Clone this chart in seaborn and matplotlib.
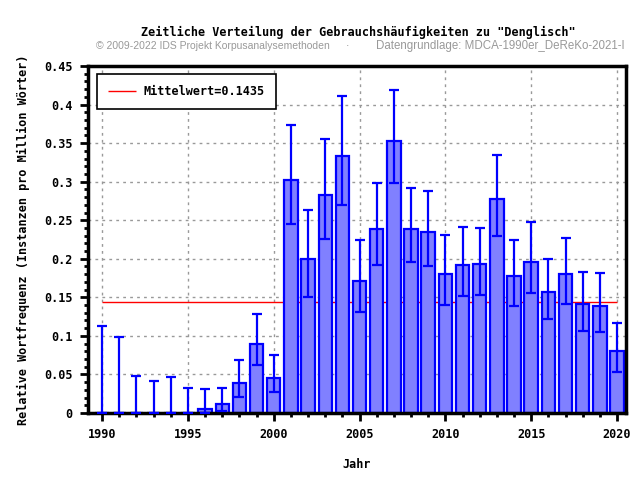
import numpy as np
import pandas as pd
import matplotlib
matplotlib.use("Agg")
import matplotlib.pyplot as plt
from matplotlib.ticker import MultipleLocator, FuncFormatter
import seaborn as sns

# Data
years = list(range(1990, 2021))
freq = [0, 0, 0, 0, 0, 0, 0.005, 0.012, 0.039, 0.0895, 0.045,
        0.302, 0.200, 0.283, 0.333, 0.171, 0.239, 0.353, 0.239, 0.235, 0.180,
        0.192, 0.193, 0.278, 0.178, 0.196, 0.157, 0.180, 0.141, 0.139, 0.080]
upper = [0.113, 0.099, 0.048, 0.0415, 0.0467, 0.032, 0.031, 0.032, 0.069, 0.128, 0.075,
         0.3735, 0.263, 0.355, 0.411, 0.224, 0.298, 0.419, 0.292, 0.288, 0.231,
         0.241, 0.240, 0.335, 0.224, 0.248, 0.200, 0.227, 0.183, 0.182, 0.117]
lower = [0, 0, 0, 0, 0, 0, 0, 0.003, 0.021, 0.062, 0.027,
         0.245, 0.150, 0.226, 0.270, 0.131, 0.192, 0.298, 0.196, 0.191, 0.140,
         0.152, 0.153, 0.230, 0.139, 0.156, 0.122, 0.141, 0.106, 0.105, 0.053]
mean_value = 0.1435

df = pd.DataFrame({"Jahr": years, "freq": freq, "upper": upper, "lower": lower})

mono = "DejaVu Sans Mono"
sub_font = ["Liberation Sans Narrow", "Liberation Sans", "DejaVu Sans"]
fs = 8.5

fig = plt.figure(figsize=(6.4, 4.8), dpi=100)
ax = fig.add_axes([0.1375, 0.1396, 0.8405, 0.7229])

ax.hlines(mean_value, 1990, 2020, color="red", lw=1, zorder=1, label="Mittelwert=0.1435")

sns.barplot(data=df, x="Jahr", y="freq", native_scale=True, width=0.78,
            color="#8080ff", saturation=1, edgecolor="blue", linewidth=1.6,
            errorbar=None, ax=ax, zorder=2)

ax.errorbar(df["Jahr"], df["freq"],
            yerr=[df["freq"] - df["lower"], df["upper"] - df["freq"]],
            fmt="none", ecolor="blue", elinewidth=1.6, capsize=3.5, capthick=1.6, zorder=3)

ax.set_xlim(1989.18, 2020.52)
ax.set_ylim(0, 0.45)
ax.xaxis.set_major_locator(MultipleLocator(5))
ax.xaxis.set_minor_locator(MultipleLocator(1))
ax.yaxis.set_major_locator(MultipleLocator(0.05))
ax.yaxis.set_minor_locator(MultipleLocator(0.01))
ax.yaxis.set_major_formatter(FuncFormatter(lambda v, p: "0" if abs(v) < 1e-9 else f"{v:.2f}".rstrip("0")))
ax.xaxis.set_major_formatter(FuncFormatter(lambda v, p: f"{int(round(v))}"))
ax.tick_params(which="major", direction="out", length=6, width=2, pad=5)
ax.tick_params(which="minor", direction="out", length=3, width=2)
for lab in ax.get_xticklabels() + ax.get_yticklabels():
    lab.set_fontfamily(mono)
    lab.set_fontweight("bold")
    lab.set_fontsize(fs)

ax.grid(True, which="major", linestyle=(0, (2, 3)), color="#999999", lw=1)
ax.set_axisbelow(True)
for s in ax.spines.values():
    s.set_linewidth(2.5)

ax.set_xlabel("Jahr", fontfamily=mono, fontweight="bold", fontsize=fs, labelpad=12)
ax.set_ylabel("Relative Wortfrequenz (Instanzen pro Million Wörter)",
              fontfamily=mono, fontweight="bold", fontsize=fs, labelpad=10)

leg = ax.legend(loc="upper left", prop={"family": mono, "weight": "bold", "size": fs},
                fancybox=False, framealpha=1, edgecolor="black",
                borderpad=0.95, handlelength=2.4, handletextpad=0.6,
                bbox_to_anchor=(0.005, 0.995))
leg.get_frame().set_linewidth(1.2)

fig.text(0.56, 0.925, 'Zeitliche Verteilung der Gebrauchshäufigkeiten zu "Denglisch"',
         ha="center", fontfamily=mono, fontweight="bold", fontsize=fs)
fig.text(0.15, 0.897, "© 2009-2022 IDS Projekt Korpusanalysemethoden", color="#999999",
         fontfamily=sub_font, fontsize=7.5)
fig.text(0.54, 0.897, "·", color="#999999", fontsize=7.5)
fig.text(0.587, 0.897, "Datengrundlage: MDCA-1990er_DeReKo-2021-I", color="#999999",
         fontfamily=sub_font, fontsize=8.3)

fig.savefig("out.png", dpi=100)
